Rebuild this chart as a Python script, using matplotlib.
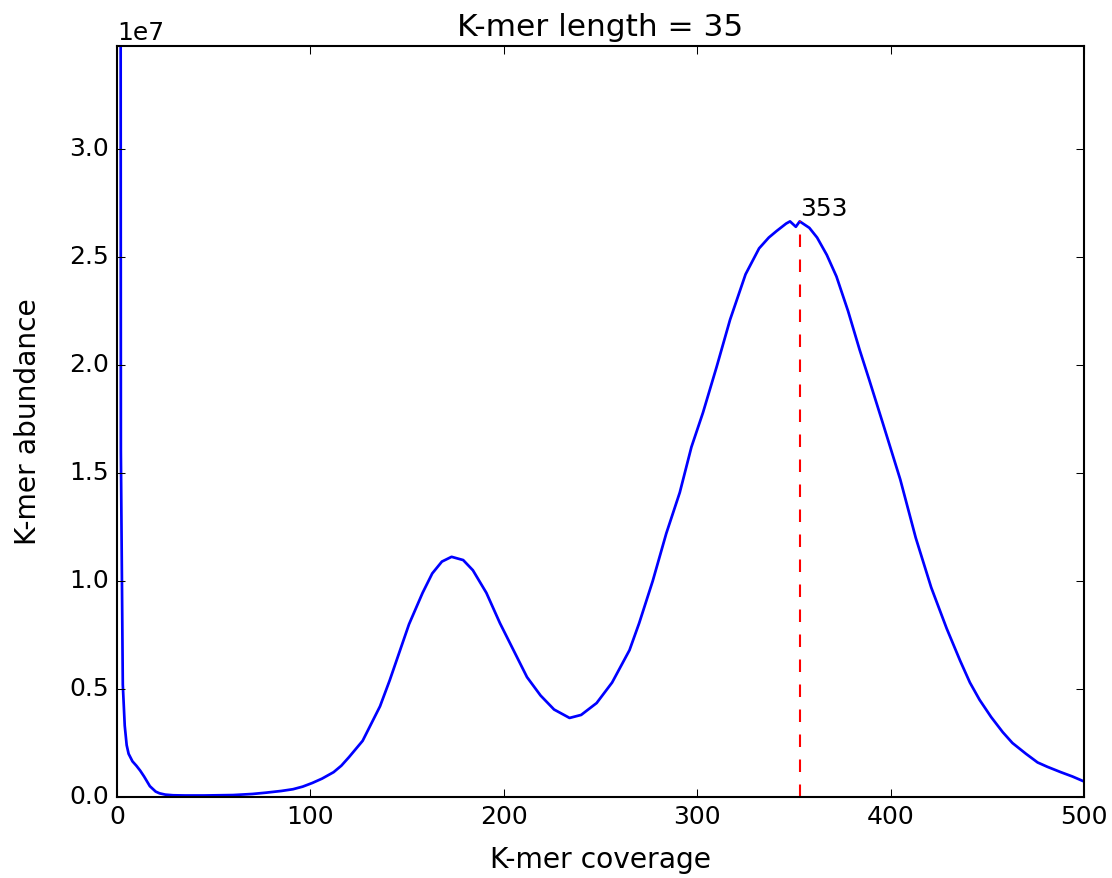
import matplotlib
matplotlib.use("Agg")
import matplotlib.pyplot as plt

coverage = [1, 2, 3, 4, 5, 6, 8, 10, 12, 14, 17, 20, 22, 25, 29, 35, 45, 60, 70, 77,
            85, 91, 96, 101, 106, 112, 116, 120, 127, 136, 141, 146, 151, 158, 163, 168,
            173, 179, 184, 191, 198, 205, 212, 219, 226, 234, 240, 248, 256, 265,
            270, 277, 284, 291, 297, 303, 310, 317, 325, 332, 337, 341, 346, 348, 351, 353,
            358, 362, 367, 372, 378, 384, 389, 396, 405, 413, 421, 429, 436, 441, 446,
            452, 458, 463, 470, 476, 481, 488, 494, 500]
abundance = [2.0e8, 1.6e7, 5.2e6, 3.3e6, 2.4e6, 2.0e6, 1.65e6, 1.45e6, 1.22e6, 0.95e6,
             0.5e6, 0.25e6, 0.17e6, 0.11e6, 0.08e6, 0.07e6, 0.07e6, 0.09e6, 0.14e6, 0.2e6,
             0.28e6, 0.36e6, 0.48e6, 0.65e6, 0.85e6, 1.15e6, 1.45e6, 1.85e6, 2.6e6, 4.2e6,
             5.4e6, 6.7e6, 8.0e6, 9.45e6, 10.35e6, 10.9e6,
             11.12e6, 10.97e6, 10.5e6, 9.45e6, 8.05e6, 6.8e6, 5.55e6, 4.7e6, 4.05e6, 3.66e6,
             3.8e6, 4.35e6, 5.3e6, 6.8e6,
             8.05e6, 10.0e6, 12.2e6, 14.1e6, 16.2e6, 17.8e6, 19.9e6, 22.1e6, 24.2e6, 25.4e6,
             25.9e6, 26.2e6, 26.55e6, 26.65e6, 26.4e6, 26.65e6,
             26.35e6, 25.9e6, 25.1e6, 24.1e6, 22.5e6, 20.7e6, 19.3e6, 17.3e6, 14.7e6, 12.0e6,
             9.7e6, 7.8e6, 6.3e6, 5.3e6, 4.5e6,
             3.7e6, 3.0e6, 2.5e6, 2.0e6, 1.6e6, 1.4e6, 1.15e6, 0.95e6, 0.72e6]

peak_cov = 353
title = "K-mer length = 35"

plt.style.use("classic")
plt.rcParams["figure.facecolor"] = "white"
plt.rcParams["savefig.facecolor"] = "white"

fig = plt.figure(figsize=(1112 / 150, 878 / 150), dpi=150)
ax = fig.add_axes([117 / 1112, 81 / 878, (1084 - 117) / 1112, (797 - 46) / 878])

ax.plot(coverage, abundance, color="b", lw=1.3)
peak_val = abundance[coverage.index(peak_cov)]
ax.plot([peak_cov, peak_cov], [0, peak_val], "r--", lw=1.0)
ax.text(peak_cov, peak_val, str(peak_cov), ha="left", va="bottom", fontsize=12)

ax.set_xlim(0, 500)
ax.set_ylim(0, 3.477e7)
ax.set_xlabel("K-mer coverage", fontsize=13.5, labelpad=8)
ax.set_ylabel("K-mer abundance", fontsize=13.5, labelpad=13)
ax.set_title(title, fontsize=15, pad=5)

fig.savefig("out.png", dpi=150)
